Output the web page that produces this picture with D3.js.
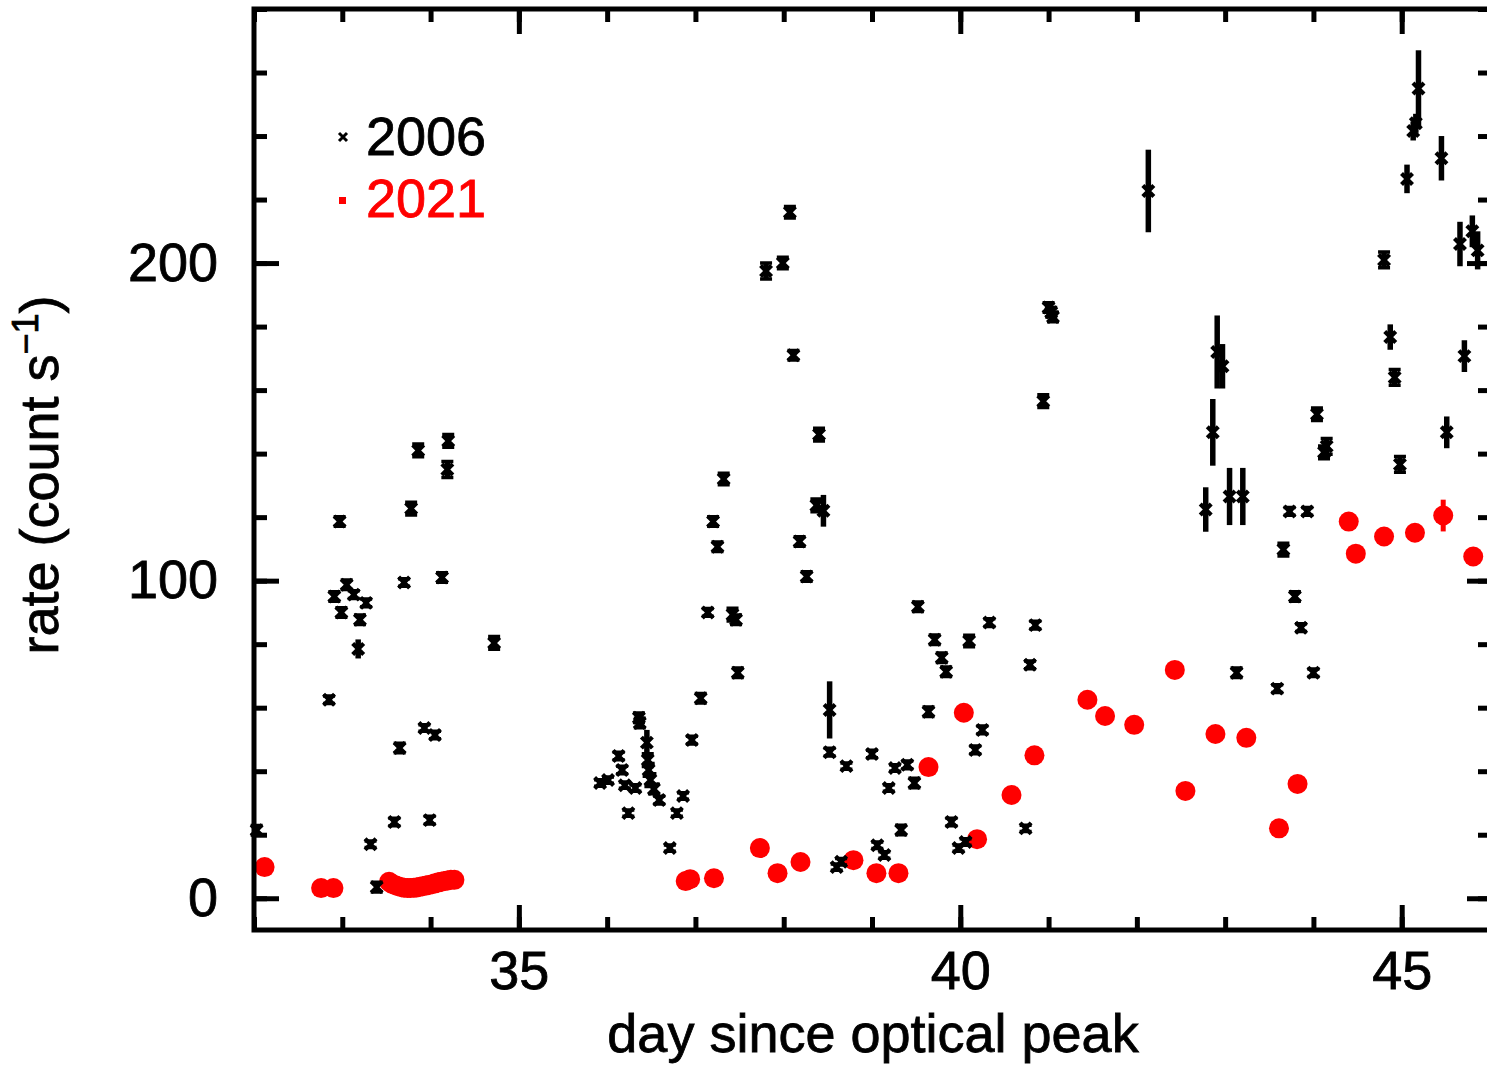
<!DOCTYPE html>
<html>
<head>
<meta charset="utf-8">
<script src="https://cdn.jsdelivr.net/npm/d3@7/dist/d3.min.js"></script>
<style>
  html, body { margin: 0; padding: 0; background: #fff; overflow: hidden; }
  text { font-family: "Liberation Sans", Arial, Helvetica, sans-serif; }
</style>
</head>
<body>
<div id="viz"></div>
<script>
// 2006 light curve: day, rate, error
var days2006 = [32.03, 32.85, 32.97, 32.91, 33.05, 33.13, 33.27, 32.99, 33.20, 33.18,
  33.86, 34.20, 34.19, 33.78, 33.70, 34.13, 34.72, 33.65, 33.93, 34.05,
  33.59, 33.99, 33.32, 33.39,
  35.92, 36.01, 36.13, 36.17, 36.20, 36.24, 36.32, 36.36, 36.37, 36.45,
  36.46, 36.47, 36.49, 36.53, 36.59, 36.71, 36.79, 36.86, 36.96, 37.06,
  37.14, 37.20, 37.25, 37.32, 37.42, 37.46, 37.48, 37.80, 37.99, 38.07,
  38.11, 38.18, 38.26, 38.37, 38.45, 38.40, 38.52, 38.52, 38.60, 38.65,
  38.71, 39.00, 39.06, 39.14, 39.19, 39.26, 39.33, 39.40, 39.48, 39.52,
  39.64, 39.71, 39.79, 39.84, 39.90, 39.98, 40.06, 40.10, 40.17, 40.25,
  40.33, 40.74, 40.79, 40.85, 40.94, 41.00, 41.03, 41.05, 42.13,
  42.78, 42.86, 42.91, 42.97, 43.05, 43.13, 43.20, 43.59, 43.66, 43.73,
  43.79, 43.86, 43.93, 44.00, 44.04, 44.15, 44.12, 44.80, 44.87, 44.92,
  44.98, 45.06, 45.13, 45.16, 45.19, 45.45, 45.51, 45.66, 45.71, 45.80, 45.86];
var rates2006 = [21.4, 62.5, 118.6, 95, 98.7, 95.6, 93, 90, 87.7, 78.5,
  141, 144, 135, 122.7, 99.4, 101, 80.4, 47.3, 53.6, 51.4,
  24, 24.6, 17, 3.5,
  36.3, 37.2, 44.8, 40.4, 35.6, 26.8, 34.7, 56.8, 55.2, 49,
  43.5, 40.4, 37.2, 34.4, 30.9, 15.8, 26.8, 32.2, 49.8, 63,
  90, 118.6, 110.7, 132, 89.3, 87.7, 71, 197.5, 200, 216,
  171, 112.3, 101.3, 123.7, 122, 146, 59.3, 46, 9.8, 11.5,
  41.6, 45.4, 16.7, 13.6, 34.7, 41, 21.5, 42, 36.3, 91.8,
  58.7, 81.4, 75.7, 71.3, 24, 15.8, 17.7, 81, 46.7, 53,
  86.8, 22, 73.5, 86, 156.5, 186, 184.5, 183, 222.7,
  122.4, 146.7, 172, 167.5, 126.5, 71, 126.5, 66, 109.8, 121.8,
  95, 85.2, 121.8, 71, 152.4, 142.3, 140.4, 201, 176.7, 164,
  136.6, 226.5, 241.6, 244, 255, 233, 146.7, 206, 170.7, 210, 204];
var errs2006 = [1.5, 1.2, 1.5, 1.5, 1.5, 1.2, 1.2, 1.5, 1.5, 3,
  2, 2, 2.5, 2, 1.2, 1.5, 2, 1.5, 1, 1.2,
  1.2, 1.2, 1, 1.5,
  1, 1, 1.2, 1.2, 1, 1, 1, 1.5, 1.5, 4,
  2, 2, 2, 1.5, 1.2, 1, 1, 1, 1.2, 1.5,
  1.2, 1.5, 1.5, 1.8, 2, 1.5, 1.5, 2.5, 1.8, 1.8,
  1.5, 1.5, 1.5, 2, 5, 2, 9, 1.2, 1, 1,
  1, 1.2, 1, 1, 1, 1, 1.5, 1.2, 1.5, 1.5,
  1.5, 1.5, 1.5, 1.5, 1.2, 1, 1, 1.8, 1.2, 1.2,
  1.2, 1, 1.2, 1.2, 2, 1.5, 1.5, 1.5, 13,
  7, 10.5, 11.5, 7, 9, 1.5, 9, 1.2, 2, 1.2,
  1.5, 1.2, 1.2, 1.2, 2, 2.5, 2, 2.5, 4, 2.5,
  2.5, 4.5, 3, 3, 12, 7, 5, 7, 5, 5, 6];

// 2021 light curve
var days2021 = [32.12, 32.76, 32.90,
  33.53, 33.56, 33.60, 33.63, 33.67, 33.70, 33.74, 33.77, 33.81, 33.84, 33.88,
  33.91, 33.95, 33.98, 34.02, 34.05, 34.09, 34.12, 34.16, 34.19, 34.23, 34.27,
  36.89, 36.94, 37.21, 37.73, 37.93, 38.19, 38.79, 39.05, 39.30, 39.64,
  40.04, 40.19, 40.58, 40.84, 41.44, 41.64, 41.97, 42.43, 42.55, 42.89,
  43.24, 43.61, 43.82, 44.40, 44.48, 44.80, 45.15, 45.47, 45.81];
var rates2021 = [9.8, 3.2, 3.2,
  5.2, 4.6, 4.1, 3.8, 3.5, 3.3, 3.2, 3.2, 3.3, 3.4, 3.6,
  3.8, 4.0, 4.2, 4.4, 4.7, 5.0, 5.2, 5.4, 5.6, 5.8, 5.8,
  5.4, 6, 6.3, 15.8, 7.9, 11.4, 12, 7.9, 7.9, 41.3,
  58.4, 18.6, 32.5, 45, 62.5, 57.4, 54.6, 71.9, 33.8, 51.7,
  50.5, 22, 36, 118.6, 108.5, 113.9, 115.1, 120.5, 107.6];
var errs2021 = [0, 0, 0,
  0, 0, 0, 0, 0, 0, 0, 0, 0, 0, 0,
  0, 0, 0, 0, 0, 0, 0, 0, 0, 0, 0,
  0, 0, 0, 0, 0, 0, 2, 0, 0, 0,
  0, 0, 0, 0, 0, 0, 0, 0, 0, 0,
  0, 0, 0, 0, 0, 0, 0, 5, 0];

var xMajor = [35, 40, 45];
var xMinor = d3.range(32, 47, 1);
var yMajor = [0, 100, 200];
var yMinor = d3.range(0, 281, 20);
var seriesNames = ['2006', '2021'];

var W = 1487, H = 1065;
var padL = 254, padR = 1490, padT = 9, padB = 930;

var svg = d3.select('#viz').append('svg')
  .attr('width', W)
  .attr('height', H);

var x = d3.scaleLinear().domain([32, 46]).range([padL, padR]);
var y = d3.scaleLinear().domain([-10, 280]).range([padB, padT]);

var black = days2006.map(function(d, i) { return { day: d, rate: rates2006[i], err: errs2006[i] }; });
var red = days2021.map(function(d, i) { return { day: d, rate: rates2021[i], err: errs2021[i] }; });

// data
var plot = svg.append('g');

plot.selectAll('line.rerr')
  .data(red.filter(function(d) { return d.err > 0; }))
  .enter().append('line')
  .attr('x1', function(d) { return x(d.day); })
  .attr('x2', function(d) { return x(d.day); })
  .attr('y1', function(d) { return y(d.rate - d.err); })
  .attr('y2', function(d) { return y(d.rate + d.err); })
  .attr('stroke', '#ff0000')
  .attr('stroke-width', 5);

plot.selectAll('circle.red')
  .data(red)
  .enter().append('circle')
  .attr('cx', function(d) { return x(d.day); })
  .attr('cy', function(d) { return y(d.rate); })
  .attr('r', 10)
  .attr('fill', '#ff0000');

plot.selectAll('line.berr')
  .data(black)
  .enter().append('line')
  .attr('x1', function(d) { return x(d.day); })
  .attr('x2', function(d) { return x(d.day); })
  .attr('y1', function(d) { return y(d.rate - d.err); })
  .attr('y2', function(d) { return y(d.rate + d.err); })
  .attr('stroke', '#000')
  .attr('stroke-width', 5.5);

// small caps give the hourglass look of the short bars
var small = black.filter(function(d) { return (y(0) - y(d.err)) < 9; });
plot.selectAll('path.cap')
  .data(small)
  .enter().append('path')
  .attr('d', function(d) {
    var cx = x(d.day), y1 = y(d.rate + d.err), y2 = y(d.rate - d.err);
    return 'M' + (cx - 6) + ',' + y1 + 'H' + (cx + 6) + 'M' + (cx - 6) + ',' + y2 + 'H' + (cx + 6);
  })
  .attr('stroke', '#000')
  .attr('stroke-width', 3.5);

plot.selectAll('path.cross')
  .data(black)
  .enter().append('path')
  .attr('d', function(d) {
    var cx = x(d.day), cy = y(d.rate), s = 5.5;
    return 'M' + (cx - s) + ',' + (cy - s) + 'L' + (cx + s) + ',' + (cy + s) +
      'M' + (cx - s) + ',' + (cy + s) + 'L' + (cx + s) + ',' + (cy - s);
  })
  .attr('stroke', '#000')
  .attr('stroke-width', 4.2)
  .attr('fill', 'none');

// axes, ticks inward on all sides
function styleAxis(g) {
  g.select('.domain').remove();
  g.selectAll('.tick line').attr('stroke', '#000').attr('stroke-width', 5);
  g.selectAll('.tick text').attr('fill', '#000').style('font-size', '54px')
    .attr('stroke', '#000').attr('stroke-width', 0.8);
}

svg.append('g').attr('transform', 'translate(0,' + padB + ')')
  .call(d3.axisBottom(x).tickValues(xMinor).tickSize(-13).tickFormat(''))
  .call(styleAxis);
svg.append('g').attr('transform', 'translate(0,' + padB + ')')
  .call(d3.axisBottom(x).tickValues(xMajor).tickSize(-25).tickPadding(21).tickFormat(d3.format('d')))
  .call(styleAxis);
svg.append('g').attr('transform', 'translate(0,' + padT + ')')
  .call(d3.axisTop(x).tickValues(xMinor).tickSize(-13).tickFormat(''))
  .call(styleAxis);
svg.append('g').attr('transform', 'translate(0,' + padT + ')')
  .call(d3.axisTop(x).tickValues(xMajor).tickSize(-25).tickFormat(''))
  .call(styleAxis);

svg.append('g').attr('transform', 'translate(' + padL + ',0)')
  .call(d3.axisLeft(y).tickValues(yMinor).tickSize(-13).tickFormat(''))
  .call(styleAxis);
svg.append('g').attr('transform', 'translate(' + padL + ',0)')
  .call(d3.axisLeft(y).tickValues(yMajor).tickSize(-25).tickPadding(36).tickFormat(d3.format('d')))
  .call(styleAxis);
svg.append('g').attr('transform', 'translate(' + padR + ',0)')
  .call(d3.axisRight(y).tickValues(yMinor).tickSize(-12).tickFormat(''))
  .call(styleAxis);
svg.append('g').attr('transform', 'translate(' + padR + ',0)')
  .call(d3.axisRight(y).tickValues(yMajor).tickSize(-23).tickFormat(''))
  .call(styleAxis);

svg.append('rect')
  .attr('x', padL).attr('y', padT)
  .attr('width', padR - padL).attr('height', padB - padT)
  .attr('fill', 'none')
  .attr('stroke', '#000')
  .attr('stroke-width', 5);

// axis titles
svg.append('text')
  .attr('x', 873).attr('y', 1052)
  .attr('text-anchor', 'middle')
  .attr('stroke', '#000').attr('stroke-width', 0.8)
  .style('font-size', '54px')
  .text('day since optical peak');

var yt = svg.append('text')
  .attr('transform', 'translate(58,475) rotate(-90)')
  .attr('text-anchor', 'middle')
  .attr('stroke', '#000').attr('stroke-width', 0.8)
  .style('font-size', '54px');
yt.append('tspan').text('rate (count s');
yt.append('tspan').attr('dy', -20).style('font-size', '36px').text('\u22121');
yt.append('tspan').attr('dy', 20).text(')');

// legend
var leg = svg.append('g');
leg.append('path')
  .attr('d', 'M339,133L347,141M339,141L347,133')
  .attr('stroke', '#000').attr('stroke-width', 3);
leg.append('rect')
  .attr('x', 339).attr('y', 197).attr('width', 7).attr('height', 7)
  .attr('fill', '#ff0000');
leg.selectAll('text')
  .data(seriesNames)
  .enter().append('text')
  .attr('x', 366)
  .attr('y', function(d, i) { return i === 0 ? 155 : 217; })
  .attr('fill', function(d, i) { return i === 0 ? '#000' : '#ff0000'; })
  .attr('stroke', function(d, i) { return i === 0 ? '#000' : '#ff0000'; })
  .attr('stroke-width', 0.8)
  .style('font-size', '54px')
  .text(function(d) { return d; });
</script>
</body>
</html>
